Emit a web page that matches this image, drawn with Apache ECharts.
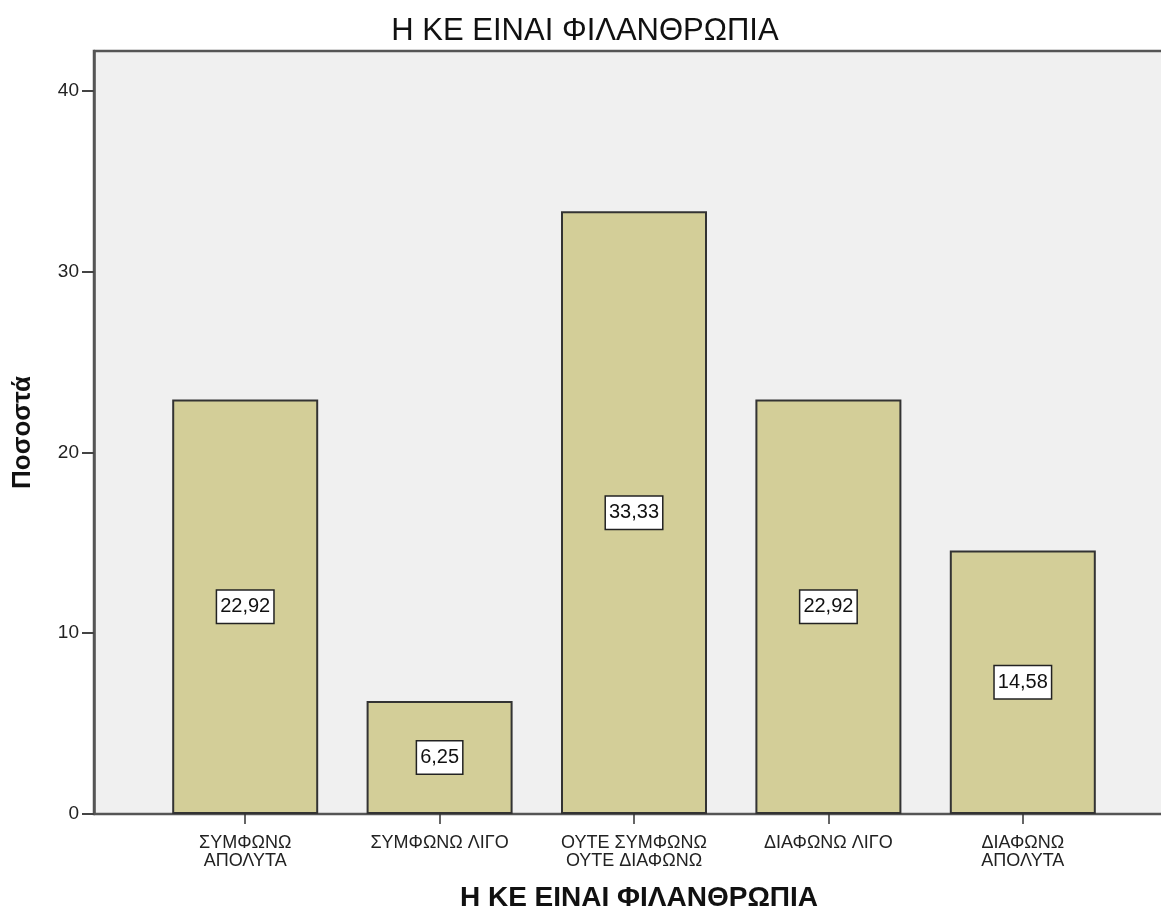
<!DOCTYPE html>
<html>
<head>
<meta charset="utf-8">
<script src="https://cdn.jsdelivr.net/npm/echarts@6/dist/echarts.min.js"></script>
<style>
  html, body { margin: 0; padding: 0; background: #fff; }
  #chart { width: 1161px; height: 916px; }
</style>
</head>
<body>
<div id="chart"></div>
<script>
const chart_title = 'Η ΚΕ ΕΙΝΑΙ ΦΙΛΑΝΘΡΩΠΙΑ';
const y_axis_name = 'Ποσοστά';
const categories = ['ΣΥΜΦΩΝΩ\nΑΠΟΛΥΤΑ', 'ΣΥΜΦΩΝΩ ΛΙΓΟ', 'ΟΥΤΕ ΣΥΜΦΩΝΩ\nΟΥΤΕ ΔΙΑΦΩΝΩ', 'ΔΙΑΦΩΝΩ ΛΙΓΟ', 'ΔΙΑΦΩΝΩ\nΑΠΟΛΥΤΑ'];
const percent_values = [22.92, 6.25, 33.33, 22.92, 14.58];
const y_ticks = [0, 10, 20, 30, 40];

const font_family = 'Liberation Sans, Arial, sans-serif';
const y_max = 42.2;

const chartArea = document.getElementById('chart');
const myChart = echarts.init(chartArea);

const bar_label = {
  show: true,
  position: 'inside',
  color: '#111',
  fontSize: 20,
  fontFamily: font_family,
  backgroundColor: '#fff',
  borderColor: '#222',
  borderWidth: 1.5,
  padding: [7, 3, 5, 3],
  formatter: function (params) {
    return params.value.toFixed(2).replace('.', ',');
  }
};

const option = {
  animation: false,
  title: {
    text: chart_title,
    left: 580,
    top: 11,
    textAlign: 'center',
    textStyle: { fontFamily: font_family, fontSize: 31, fontWeight: 'normal', color: '#111' }
  },
  grid: [
    // background frame + y axis (right side runs past the window)
    { left: 94, width: 1090, top: 51, height: 763, outerBoundsMode: 'none', show: true, backgroundColor: '#f0f0f0', borderColor: '#555', borderWidth: 2.5 },
    // bars
    { left: 148, width: 972, top: 51, height: 763, outerBoundsMode: 'none' }
  ],
  xAxis: [
    {
      gridIndex: 0, type: 'value', min: 0, max: 1,
      axisLine: { show: false }, axisTick: { show: false }, axisLabel: { show: false }, splitLine: { show: false },
      name: chart_title, nameLocation: 'middle', nameGap: 70,
      nameTextStyle: { fontFamily: font_family, fontSize: 28, fontWeight: 'bold', color: '#111' }
    },
    {
      gridIndex: 1, type: 'category', data: categories,
      axisLine: { show: false },
      axisTick: { show: true, alignWithLabel: true, length: 10, lineStyle: { color: '#333', width: 1.5 } },
      axisLabel: { fontFamily: font_family, fontSize: 18, color: '#222', margin: 20, lineHeight: 18 }
    }
  ],
  yAxis: [
    {
      gridIndex: 0, type: 'value', min: 0, max: y_max,
      axisLine: { show: true, lineStyle: { color: '#555', width: 2.5 } },
      axisTick: { show: true, length: 12, customValues: y_ticks, lineStyle: { color: '#444', width: 2 } },
      axisLabel: { customValues: y_ticks, fontFamily: font_family, fontSize: 19, color: '#222', margin: 15 },
      splitLine: { show: false },
      name: y_axis_name, nameLocation: 'middle', nameGap: 58,
      nameTextStyle: { fontFamily: font_family, fontSize: 26, fontWeight: 'bold', color: '#111' }
    },
    {
      gridIndex: 1, type: 'value', min: 0, max: y_max, show: false
    }
  ],
  series: [
    {
      type: 'bar',
      xAxisIndex: 1,
      yAxisIndex: 1,
      data: percent_values,
      barWidth: 146,
      itemStyle: { color: '#d3ce98', borderColor: '#333', borderWidth: 2 },
      label: bar_label
    }
  ]
};

myChart.setOption(option);
</script>
</body>
</html>
